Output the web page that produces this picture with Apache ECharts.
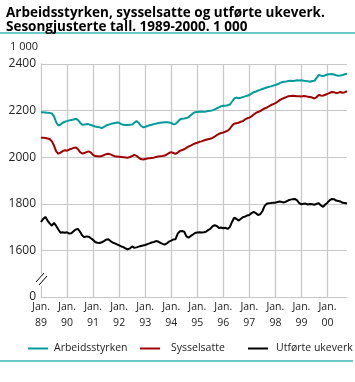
<!DOCTYPE html>
<html>
<head>
<meta charset="utf-8">
<script src="https://cdn.jsdelivr.net/npm/echarts@6/dist/echarts.min.js"></script>
<style>
html,body{margin:0;padding:0;background:#fff;}
#c{width:355px;height:382px;}
</style>
</head>
<body>
<div id="c"></div>
<script>
// Monthly, Jan 1989 - Oct 2000 (1 000 persons / 1 000 weeks)
var yearLabels = ['89','90','91','92','93','94','95','96','97','98','99','00'];
var yTickLabels = ['0','1600','1800','2000','2200','2400'];

var arbeidsstyrken = [
 2193,2193,2192,2191,2190,2188,2175,2150,2136,2140,2148,2152,
 2155,2158,2160,2162,2165,2160,2148,2139,2140,2142,2141,2138,
 2135,2132,2130,2128,2125,2130,2136,2139,2142,2145,2147,2149,
 2148,2142,2139,2138,2138,2139,2140,2148,2155,2148,2135,2129,
 2130,2134,2137,2139,2142,2144,2147,2148,2149,2150,2150,2149,
 2147,2141,2143,2152,2162,2165,2166,2168,2172,2180,2188,2193,
 2194,2195,2196,2195,2196,2198,2199,2201,2205,2210,2214,2219,
 2221,2221,2223,2226,2238,2252,2256,2253,2255,2258,2261,2264,
 2267,2273,2279,2282,2286,2289,2293,2296,2299,2302,2304,2307,
 2310,2313,2318,2322,2324,2325,2327,2328,2327,2328,2330,2329,
 2330,2328,2327,2326,2324,2327,2328,2340,2353,2350,2348,2352,
 2355,2356,2357,2355,2352,2350,2351,2353,2356,2358
];
var sysselsatte = [
 2083,2084,2082,2080,2078,2068,2050,2025,2015,2020,2026,2030,
 2028,2033,2036,2040,2042,2035,2022,2016,2018,2022,2025,2020,
 2010,2005,2004,2003,2005,2009,2013,2015,2012,2008,2004,2003,
 2002,2001,2000,1999,1998,2001,2005,2010,2006,1998,1992,1990,
 1992,1994,1996,1997,1998,2001,2003,2004,2005,2007,2012,2018,
 2022,2018,2014,2020,2027,2031,2034,2040,2046,2050,2055,2059,
 2062,2066,2068,2072,2075,2077,2079,2083,2088,2095,2100,2104,
 2106,2110,2113,2122,2135,2144,2146,2148,2152,2155,2162,2167,
 2170,2175,2183,2190,2194,2198,2204,2209,2213,2218,2224,2228,
 2232,2238,2245,2250,2254,2258,2262,2263,2264,2263,2262,2262,
 2261,2263,2262,2259,2258,2256,2252,2258,2267,2265,2264,2268,
 2272,2276,2280,2279,2275,2277,2280,2276,2279,2283
];
var utforteUkeverk = [
 1722,1735,1744,1728,1716,1706,1718,1705,1690,1676,1678,1676,
 1678,1672,1674,1682,1690,1692,1680,1664,1657,1660,1659,1652,
 1645,1636,1633,1632,1635,1640,1646,1648,1640,1634,1630,1626,
 1622,1617,1614,1608,1604,1609,1617,1611,1613,1616,1619,1621,
 1623,1627,1630,1634,1636,1640,1638,1632,1628,1625,1630,1638,
 1642,1647,1648,1672,1682,1683,1680,1660,1655,1662,1668,1675,
 1677,1678,1677,1678,1680,1687,1692,1703,1708,1705,1696,1698,
 1695,1697,1692,1700,1722,1740,1736,1728,1735,1742,1745,1750,
 1752,1760,1765,1760,1752,1755,1768,1790,1800,1802,1803,1805,
 1805,1808,1810,1808,1806,1810,1815,1818,1820,1821,1815,1803,
 1798,1800,1801,1797,1799,1798,1796,1800,1802,1793,1787,1797,
 1805,1815,1821,1820,1814,1812,1810,1804,1803,1801
];

var categories = [];
for (var i = 0; i < arbeidsstyrken.length; i++) {
  categories.push(yearLabels[Math.floor(i / 12)] + '-' + (i % 12 + 1));
}

var FONT = 'Open Sans';
var chart = echarts.init(document.getElementById('c'), null, {renderer: 'canvas'});
var gridColor = '#c8c8c8';

chart.setOption({
  animation: false,
  backgroundColor: '#fff',
  title: {
    text: 'Arbeidsstyrken, sysselsatte og utførte ukeverk.\nSesongjusterte tall. 1989-2000. 1 000',
    left: 1, top: 1,
    textStyle: {fontFamily: FONT, fontWeight: 'bold', fontSize: 13.5, lineHeight: 14, color: '#000'}
  },
  grid: {left: 41, right: 8, top: 64, bottom: 85, containLabel: false},
  legend: [
    {data: ['Arbeidsstyrken'], left: 23, top: 338, icon: 'rect', itemWidth: 20, itemHeight: 2,
     textStyle: {fontFamily: FONT, fontSize: 10.5, color: '#222', padding: [0,0,0,1]}},
    {data: ['Sysselsatte'], left: 135, top: 338, icon: 'rect', itemWidth: 20, itemHeight: 2,
     textStyle: {fontFamily: FONT, fontSize: 10.5, color: '#222', padding: [0,0,0,6]}},
    {data: ['Utførte ukeverk'], left: 243, top: 338, icon: 'rect', itemWidth: 20, itemHeight: 2,
     textStyle: {fontFamily: FONT, fontSize: 10.5, color: '#222', padding: [0,0,0,3]}}
  ],
  xAxis: {
    type: 'category',
    data: categories,
    boundaryGap: false,
    axisLine: {show: true, lineStyle: {color: gridColor, width: 1}},
    axisTick: {show: false},
    axisLabel: {
      interval: function (idx) { return idx % 12 === 0; },
      formatter: function (v, idx) { return 'Jan.\n' + yearLabels[Math.floor(idx / 12)]; },
      fontFamily: FONT, fontSize: 10.5, color: '#222', lineHeight: 16, margin: 2
    },
    splitLine: {show: true, interval: function (idx) { return idx % 12 === 0 && idx > 0; },
      lineStyle: {color: gridColor, width: 1.3}}
  },
  yAxis: {
    type: 'value',
    min: 1400, max: 2400, interval: 200,
    name: '1 000',
    nameLocation: 'end',
    nameGap: 12,
    nameTextStyle: {fontFamily: FONT, fontSize: 11, color: '#222', align: 'left', padding: [0,0,0,-31]},
    axisLine: {show: true, lineStyle: {color: gridColor, width: 1.3}},
    axisTick: {show: false},
    axisLabel: {
      formatter: function (v) { return v === 1400 ? yTickLabels[0] : String(v); },
      fontFamily: FONT, fontSize: 12, color: '#222', margin: 5
    },
    splitLine: {show: true, lineStyle: {color: gridColor, width: 1}}
  },
  series: [
    {name: 'Arbeidsstyrken', type: 'line', data: arbeidsstyrken, showSymbol: false,
     lineStyle: {color: '#009c9c', width: 2}, itemStyle: {color: '#009c9c'}},
    {name: 'Sysselsatte', type: 'line', data: sysselsatte, showSymbol: false,
     lineStyle: {color: '#a00000', width: 2}, itemStyle: {color: '#a00000'}},
    {name: 'Utførte ukeverk', type: 'line', data: utforteUkeverk, showSymbol: false,
     lineStyle: {color: '#000', width: 2}, itemStyle: {color: '#000'}}
  ],
  graphic: [
    {type: 'rect', shape: {x: 0, y: 32, width: 355, height: 2}, style: {fill: '#6cc8c8'}},
    {type: 'rect', shape: {x: 0, y: 360, width: 353, height: 2}, style: {fill: '#6cc8c8'}},
    {type: 'rect', shape: {x: 38, y: 274, width: 8, height: 12}, style: {fill: '#fff'}, z: 100},
    {type: 'line', shape: {x1: 36, y1: 282, x2: 44, y2: 273}, style: {stroke: '#000', lineWidth: 1}, z: 101},
    {type: 'line', shape: {x1: 39, y1: 285, x2: 47, y2: 276}, style: {stroke: '#000', lineWidth: 1}, z: 101}
  ]
});
</script>
</body>
</html>
